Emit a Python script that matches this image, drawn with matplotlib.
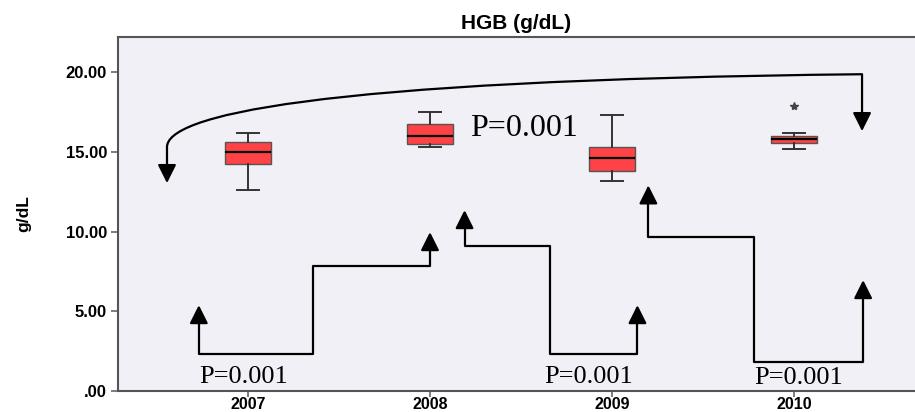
import matplotlib
matplotlib.use("Agg")
import matplotlib.pyplot as plt
from matplotlib.path import Path
from matplotlib.patches import FancyArrowPatch

# box statistics (g/dL)
years = ["2007", "2008", "2009", "2010"]
whisker_low = [12.6, 15.32, 13.2, 15.19]
q1 = [14.21, 15.5, 13.81, 15.53]
medians = [15.0, 15.99, 14.61, 15.8]
q3 = [15.61, 16.76, 15.3, 16.01]
whisker_high = [16.19, 17.49, 17.3, 16.2]
outliers = [[], [], [], [17.89]]

y_ticks = [0, 5, 10, 15, 20]

# comparison connectors (x in box position units, y in g/dL)
step_links = [
    [(0.73, 5.39), (0.73, 2.32), (1.36, 2.32), (1.36, 7.84), (2.0, 7.84), (2.0, 9.97)],
    [(2.19, 11.35), (2.19, 9.09), (2.66, 9.09), (2.66, 2.32), (3.14, 2.32), (3.14, 5.39)],
    [(3.20, 12.9), (3.20, 9.65), (3.78, 9.65), (3.78, 1.82), (4.38, 1.82), (4.38, 6.96)],
]
curve_link = [(0.555, 13.04), (0.555, 15.3), (0.555, 17.2), (1.3, 19.5),
              (4.374, 19.87), (4.374, 16.3)]
p_labels = ["P=0.001", "P=0.001", "P=0.001", "P=0.001"]
p_pos = [(0.978, 0.5), (2.874, 0.47), (4.027, 0.44), (2.22, 15.99)]
p_sizes = [19, 19, 19, 23]

sans = "Liberation Sans"
serif = "Liberation Serif"

fig = plt.figure(figsize=(9.15, 4.12), dpi=100)
ax = fig.add_axes([0.129, 0.051, 0.871, 0.859])
ax.set_facecolor("#f0f0f6")

stats = []
for i in range(len(years)):
    stats.append({"whislo": whisker_low[i], "q1": q1[i], "med": medians[i],
                  "q3": q3[i], "whishi": whisker_high[i], "fliers": outliers[i]})

ax.bxp(stats, positions=range(1, len(years) + 1), widths=0.25, patch_artist=True,
       boxprops=dict(facecolor="#ff4246", edgecolor="#555555", linewidth=1.0),
       medianprops=dict(color="black", linewidth=1.6),
       whiskerprops=dict(color="#333333", linewidth=1.4),
       capprops=dict(color="#333333", linewidth=1.4),
       flierprops=dict(marker="*", markersize=6, markerfacecolor="#444444",
                       markeredgecolor="#444444"))

arrow_kw = dict(arrowstyle="<|-|>,head_length=0.56,head_width=0.28", mutation_scale=20,
                color="black", linewidth=1.6, transform=ax.transData)

for pts in step_links:
    codes = [Path.MOVETO] + [Path.LINETO] * (len(pts) - 1)
    ax.add_patch(FancyArrowPatch(path=Path(pts, codes), **arrow_kw))

curve_codes = [Path.MOVETO, Path.LINETO, Path.CURVE4, Path.CURVE4, Path.CURVE4, Path.LINETO]
ax.add_patch(FancyArrowPatch(path=Path(curve_link, curve_codes), **arrow_kw))

for label, (x, y), size in zip(p_labels, p_pos, p_sizes):
    ha = "left" if size > 20 else "center"
    ax.text(x, y, label, ha=ha, va="baseline", fontsize=size, family=serif, color="black")

ax.set_xlim(0.286, 4.665)
ax.set_ylim(0, 22.2)
ax.set_xticks(range(1, len(years) + 1))
ax.set_xticklabels(years, fontsize=11.5, fontweight="bold", family=sans)
ax.set_yticks(y_ticks)
ax.set_yticklabels([f"{v:.2f}".lstrip("0") if v == 0 else f"{v:.2f}" for v in y_ticks],
                   fontsize=12, fontweight="bold", family=sans)
ax.tick_params(direction="out", length=5, width=1.2, color="#666666", pad=3)
ax.tick_params(axis="x", length=4, pad=0)

for side in ["left", "bottom", "top"]:
    ax.spines[side].set_color("#555555")
    ax.spines[side].set_linewidth(1.5)
ax.spines["right"].set_visible(False)

ax.set_ylabel("g/dL", fontsize=12.5, fontweight="bold", family=sans, labelpad=25)
ax.set_title("HGB (g/dL)", fontsize=15, fontweight="bold", family=sans, pad=6)

fig.savefig("out.png", dpi=100)
